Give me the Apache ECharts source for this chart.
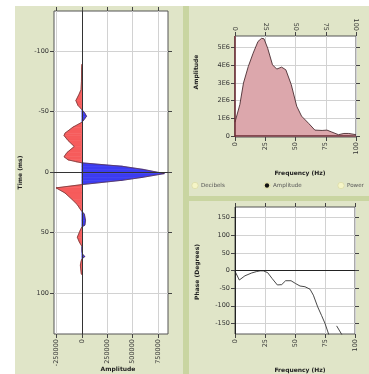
<!DOCTYPE html>
<html>
<head>
<meta charset="utf-8">
<script src="https://cdn.jsdelivr.net/npm/echarts@6/dist/echarts.min.js"></script>
<style>
  html, body { margin: 0; padding: 0; background: #fff; }
  #main { width: 369px; height: 374px; }
</style>
</head>
<body>
<div id="main"></div>
<script>
// wavelet trace: time (ms) and amplitude
const traceTime = [-89, -85, -75, -68, -64, -59, -55, -51.5, -48.5, -46, -43, -41, -37, -32, -30, -26, -21, -16, -12.5, -10, -8.5, -7.5,
  -4.6, -2, 1.4, 4.5, 6.9, 10.5, 13.2, 17.4, 22.9, 27, 31.2, 32.6, 35, 40, 44, 45.5, 49, 54, 58, 61.5, 65.6, 68, 70, 72, 74, 77, 80, 84, 85];
const traceAmp = [0, -3000, -4000, -8000, -29000, -59000, -39000, 0, 30000, 46000, 20000, 0, -88000, -167000, -176000, -137000, -75000,
  -147000, -176000, -137000, -60000, 0, 402000, 610000, 814000, 600000, 402000, 0, -255000, -167000, -95000, -46000, -13000, 0,
  25000, 36000, 30000, 0, -20000, -45000, -25000, 0, 0, 8000, 29000, 0, -8000, -15000, -12000, -6000, 0];
const ampTicks = [-250000, 0, 250000, 500000, 750000];
const timeTicks = [-100, -50, 0, 50, 100];

// amplitude spectrum
const specFreq = [0, 4, 7, 11, 15, 19, 22, 24, 27, 31, 34.5, 38.5, 42, 46.5, 51, 55, 61, 66, 72, 76, 80, 85.5, 90, 94, 100];
const specAmp = [790000, 1780000, 3000000, 3940000, 4690000, 5350000, 5530000, 5500000, 4970000, 4030000, 3790000, 3900000, 3750000,
  2910000, 1690000, 1130000, 710000, 340000, 320000, 340000, 230000, 80000, 150000, 150000, 80000];
const specTicks = [0, 1000000, 2000000, 3000000, 4000000, 5000000];

// phase spectrum (null = wrap gap)
const phaseFreq = [0, 3.6, 8.3, 13.9, 18, 21, 23.6, 27.2, 31, 35.3, 38.9, 42.2, 46.7, 50.5, 54.2, 58.3, 62.5, 65.3, 68.9, 72.2, 75, 79.5,
  82, 84.7, 90.5];
const phaseDeg = [-2, -27, -15, -7, -3, -1, -1, -6, -23, -41, -40, -29, -29, -37, -44, -46, -53, -70, -103, -128, -150, -195,
  null, -157, -190];
const phaseTicks = [-150, -100, -50, 0, 50, 100, 150];

const modeLabels = ['Decibels', 'Amplitude', 'Power'];
const modeSelected = 1;

const FONT = 'DejaVu Sans';
const PANEL = '#e0e5c8';
const STRIP = '#c9d5a1';
const RED = '#f65c5c';
const BLUE = '#3c3cf2';

function tickLabel(extra) {
  return Object.assign({ fontSize: 6.5, color: '#333', fontFamily: FONT, margin: 5, formatter: v => String(v) }, extra);
}
function ticks(extra) {
  return Object.assign({ show: true, length: 4, lineStyle: { color: '#444' } }, extra);
}
const grayGrid = { show: true, lineStyle: { color: '#d2d2d2', width: 1 } };
const noLine = { show: false, onZero: false };

const chart = echarts.init(document.getElementById('main'), null, { renderer: 'canvas' });

const wiggleData = traceAmp.map((a, i) => [a, traceTime[i]]);

function renderWiggle(params, api) {
  const i = params.dataIndex;
  if (i >= traceAmp.length - 1) return;
  const a0 = traceAmp[i], a1 = traceAmp[i + 1];
  const fill = a0 + a1 >= 0 ? BLUE : RED;
  return {
    type: 'polygon',
    shape: {
      points: [
        api.coord([0, traceTime[i]]),
        api.coord([a0, traceTime[i]]),
        api.coord([a1, traceTime[i + 1]]),
        api.coord([0, traceTime[i + 1]])
      ]
    },
    style: { fill: fill, stroke: fill, lineWidth: 0.6 }
  };
}

const titleStyle = { fontSize: 6, fontWeight: 'bold', fontFamily: FONT, fill: '#222' };
function title(text, x, y, vertical) {
  return {
    type: 'text', x: x, y: y, z: 100,
    rotation: vertical ? Math.PI / 2 : 0,
    style: Object.assign({ text: text, align: 'center', verticalAlign: 'middle' }, titleStyle)
  };
}

const radioX = [195, 267, 341];
const radios = [];
modeLabels.forEach((label, i) => {
  radios.push({ type: 'circle', z: 100, shape: { cx: radioX[i], cy: 185.5, r: 3.2 },
    style: { fill: '#f5f5c6', stroke: '#dadaa8', lineWidth: 0.8 } });
  if (i === modeSelected) {
    radios.push({ type: 'circle', z: 101, shape: { cx: radioX[i], cy: 185.5, r: 2.2 }, style: { fill: '#111' } });
  }
  radios.push({ type: 'text', z: 100, x: radioX[i] + 6, y: 185.5,
    style: { text: label, fontSize: 5.6, fontFamily: FONT, fill: '#555', verticalAlign: 'middle' } });
});

const option = {
  animation: false,
  backgroundColor: '#fff',
  graphic: [
    { type: 'rect', z: -10, shape: { x: 15, y: 6, width: 168, height: 368 }, style: { fill: PANEL } },
    { type: 'rect', z: -10, shape: { x: 183, y: 6, width: 6, height: 368 }, style: { fill: STRIP } },
    { type: 'rect', z: -10, shape: { x: 189, y: 6, width: 180, height: 190 }, style: { fill: PANEL } },
    { type: 'rect', z: -10, shape: { x: 189, y: 196, width: 180, height: 5 }, style: { fill: STRIP } },
    { type: 'rect', z: -10, shape: { x: 189, y: 201, width: 180, height: 173 }, style: { fill: PANEL } },
    title('Time (ms)', 20, 172.5, true),
    title('Amplitude', 118, 369, false),
    title('Amplitude', 196, 72, true),
    title('Frequency (Hz)', 300, 173, false),
    title('Phase (Degrees)', 197, 272, true),
    title('Frequency (Hz)', 300, 370, false)
  ].concat(radios),
  grid: [
    { left: 54, top: 11, width: 114, height: 323, show: true, backgroundColor: '#fff', borderColor: '#555', borderWidth: 1 },
    { left: 235, top: 36, width: 121, height: 101, show: true, backgroundColor: '#fff', borderColor: '#555', borderWidth: 1 },
    { left: 235, top: 207, width: 120, height: 127, show: true, backgroundColor: '#fff', borderColor: '#555', borderWidth: 1 }
  ],
  xAxis: [
    { gridIndex: 0, type: 'value', position: 'bottom', min: -275000, max: 850000, axisLine: noLine,
      axisTick: ticks({ customValues: ampTicks }), splitLine: grayGrid,
      axisLabel: tickLabel({ customValues: ampTicks, rotate: 90 }) },
    { gridIndex: 0, type: 'value', position: 'top', min: -275000, max: 850000, axisLine: noLine,
      axisTick: ticks({ customValues: ampTicks }), splitLine: { show: false }, axisLabel: { show: false } },
    { gridIndex: 1, type: 'value', position: 'bottom', min: 0, max: 100, interval: 25, axisLine: noLine,
      axisTick: ticks(), splitLine: grayGrid, axisLabel: tickLabel({ rotate: 90 }) },
    { gridIndex: 1, type: 'value', position: 'top', min: 0, max: 100, interval: 25, axisLine: noLine,
      axisTick: ticks(), splitLine: { show: false }, axisLabel: tickLabel({ rotate: 90 }) },
    { gridIndex: 2, type: 'value', position: 'bottom', min: 0, max: 100, interval: 25, axisLine: noLine,
      axisTick: ticks(), splitLine: grayGrid, axisLabel: tickLabel({ rotate: 90 }) },
    { gridIndex: 2, type: 'value', position: 'top', min: 0, max: 100, interval: 25, axisLine: noLine,
      axisTick: ticks(), splitLine: { show: false }, axisLabel: { show: false } }
  ],
  yAxis: [
    { gridIndex: 0, type: 'value', position: 'left', inverse: true, min: -133, max: 134, axisLine: noLine,
      axisTick: ticks({ customValues: timeTicks }), splitLine: grayGrid,
      axisLabel: tickLabel({ customValues: timeTicks }) },
    { gridIndex: 0, type: 'value', position: 'right', inverse: true, min: -133, max: 134, axisLine: noLine,
      axisTick: ticks({ customValues: timeTicks }), splitLine: { show: false }, axisLabel: { show: false } },
    { gridIndex: 1, type: 'value', position: 'left', min: -50000, max: 5660000, axisLine: noLine,
      axisTick: ticks({ customValues: specTicks }), splitLine: grayGrid,
      axisLabel: tickLabel({ customValues: specTicks, formatter: v => v === 0 ? '0' : (v / 1e6) + 'E6' }) },
    { gridIndex: 1, type: 'value', position: 'right', min: -50000, max: 5660000, axisLine: noLine,
      axisTick: ticks({ customValues: specTicks }), splitLine: { show: false }, axisLabel: { show: false } },
    { gridIndex: 2, type: 'value', position: 'left', min: -180, max: 180, axisLine: noLine,
      axisTick: ticks({ customValues: phaseTicks }), splitLine: grayGrid,
      axisLabel: tickLabel({ customValues: phaseTicks }) },
    { gridIndex: 2, type: 'value', position: 'right', min: -180, max: 180, axisLine: noLine,
      axisTick: ticks({ customValues: phaseTicks }), splitLine: { show: false }, axisLabel: { show: false } }
  ],
  series: [
    {
      type: 'custom', xAxisIndex: 0, yAxisIndex: 0, data: wiggleData,
      encode: { x: 0, y: 1 }, renderItem: renderWiggle, silent: true, z: 2
    },
    {
      type: 'line', xAxisIndex: 0, yAxisIndex: 0, data: wiggleData, symbol: 'none', z: 3,
      lineStyle: { color: '#5a3030', width: 0.7 },
      markLine: {
        silent: true, symbol: ['none', 'none'], label: { show: false },
        lineStyle: { color: '#333', type: 'solid', width: 1 },
        data: [{ xAxis: 0 }, { yAxis: 0 }]
      }
    },
    {
      type: 'line', xAxisIndex: 2, yAxisIndex: 2, symbol: 'none',
      data: specFreq.map((f, i) => [f, specAmp[i]]),
      lineStyle: { color: '#4a2c31', width: 0.9 },
      areaStyle: { color: '#dca7ac', opacity: 1 },
      markLine: {
        silent: true, symbol: ['none', 'none'], label: { show: false },
        lineStyle: { color: '#6b2a33', type: 'solid', width: 1.5 },
        data: [{ yAxis: 0 }, { xAxis: 0 }]
      }
    },
    {
      type: 'line', xAxisIndex: 4, yAxisIndex: 4, symbol: 'none', connectNulls: false,
      data: phaseFreq.map((f, i) => [f, phaseDeg[i]]),
      lineStyle: { color: '#333', width: 0.9 },
      markLine: {
        silent: true, symbol: ['none', 'none'], label: { show: false },
        lineStyle: { color: '#222', type: 'solid', width: 1 },
        data: [{ yAxis: 0 }, { xAxis: 0 }]
      }
    }
  ]
};

chart.setOption(option);
</script>
</body>
</html>
